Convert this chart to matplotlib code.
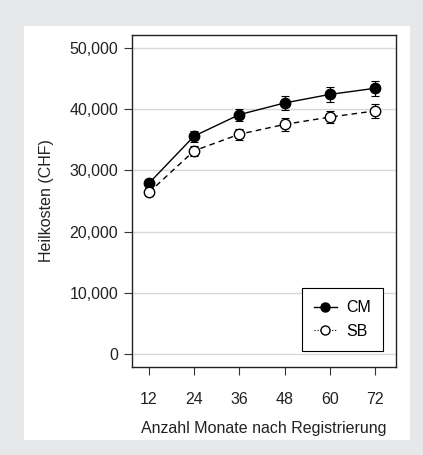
import matplotlib.pyplot as plt
from matplotlib.patches import Rectangle
from matplotlib.ticker import FuncFormatter

months = [12, 24, 36, 48, 60, 72]
cm_cost = [27900, 35600, 39100, 41000, 42400, 43400]
cm_err = [700, 900, 1000, 1100, 1200, 1200]
sb_cost = [26400, 33200, 35900, 37500, 38700, 39700]
sb_err = [600, 800, 900, 1000, 1000, 1100]
y_ticks = [0, 10000, 20000, 30000, 40000, 50000]

plt.rcParams['font.family'] = ['Liberation Sans', 'DejaVu Sans']

fig = plt.figure(figsize=(4.23, 4.55), dpi=100)
fig.patch.set_facecolor('#e6e7e9')
# white panel behind the plot
fig.add_artist(Rectangle((24 / 423, 1 - 440 / 455), 386 / 423, 414 / 455,
                         transform=fig.transFigure, facecolor='white',
                         edgecolor='none', zorder=-10))

ax = fig.add_axes([132 / 423, 1 - 367 / 455, 264 / 423, 332 / 455])
ax.set_facecolor('white')

for y in y_ticks:
    ax.axhline(y, color='#d8d8d8', lw=1.0, zorder=1)

ax.errorbar(months, cm_cost, yerr=cm_err, color='black', lw=1.0, ls='-',
            marker='o', ms=7.5, mfc='black', mec='black', capsize=3,
            elinewidth=0.8, capthick=0.8, zorder=3)
ax.errorbar(months, sb_cost, yerr=sb_err, color='black', lw=1.0, ls=(0, (4, 3)),
            marker='o', ms=7.5, mfc='white', mec='black', capsize=3,
            elinewidth=0.8, capthick=0.8, zorder=3)

ax.set_xlim(7.5, 77.6)
ax.set_ylim(-2100, 52100)
ax.set_xticks(months)
ax.set_yticks(y_ticks)
ax.yaxis.set_major_formatter(FuncFormatter(lambda v, p: f"{int(v):,}"))
ax.tick_params(axis='both', direction='out', length=6, width=0.8,
               labelsize=11.5, color='#333333', labelcolor='#222222')
ax.tick_params(axis='x', pad=12)
ax.tick_params(axis='y', pad=4)
for s in ax.spines.values():
    s.set_linewidth(1.0)
    s.set_color('#222222')

ax.set_xlabel('Anzahl Monate nach Registrierung', fontsize=11.5, labelpad=10,
              color='#222222')
ax.set_ylabel('Heilkosten (CHF)', fontsize=11.5, labelpad=11, color='#222222')

h_cm = plt.Line2D([], [], color='black', lw=1.0, marker='o', ms=6.5, mfc='black')
h_sb = plt.Line2D([], [], color='black', lw=0.8, ls=':', marker='o', ms=6.5, mfc='white')
leg = ax.legend([h_cm, h_sb], ['CM', 'SB'], loc='lower right',
                bbox_to_anchor=(0.951, 0.048), borderaxespad=0,
                fontsize=11.5, frameon=True,
                fancybox=False, edgecolor='black', framealpha=1,
                handlelength=1.4, borderpad=0.75, labelspacing=0.55,
                handletextpad=0.6)
leg.get_frame().set_linewidth(0.8)

fig.savefig('out.png', dpi=100, facecolor=fig.get_facecolor())
